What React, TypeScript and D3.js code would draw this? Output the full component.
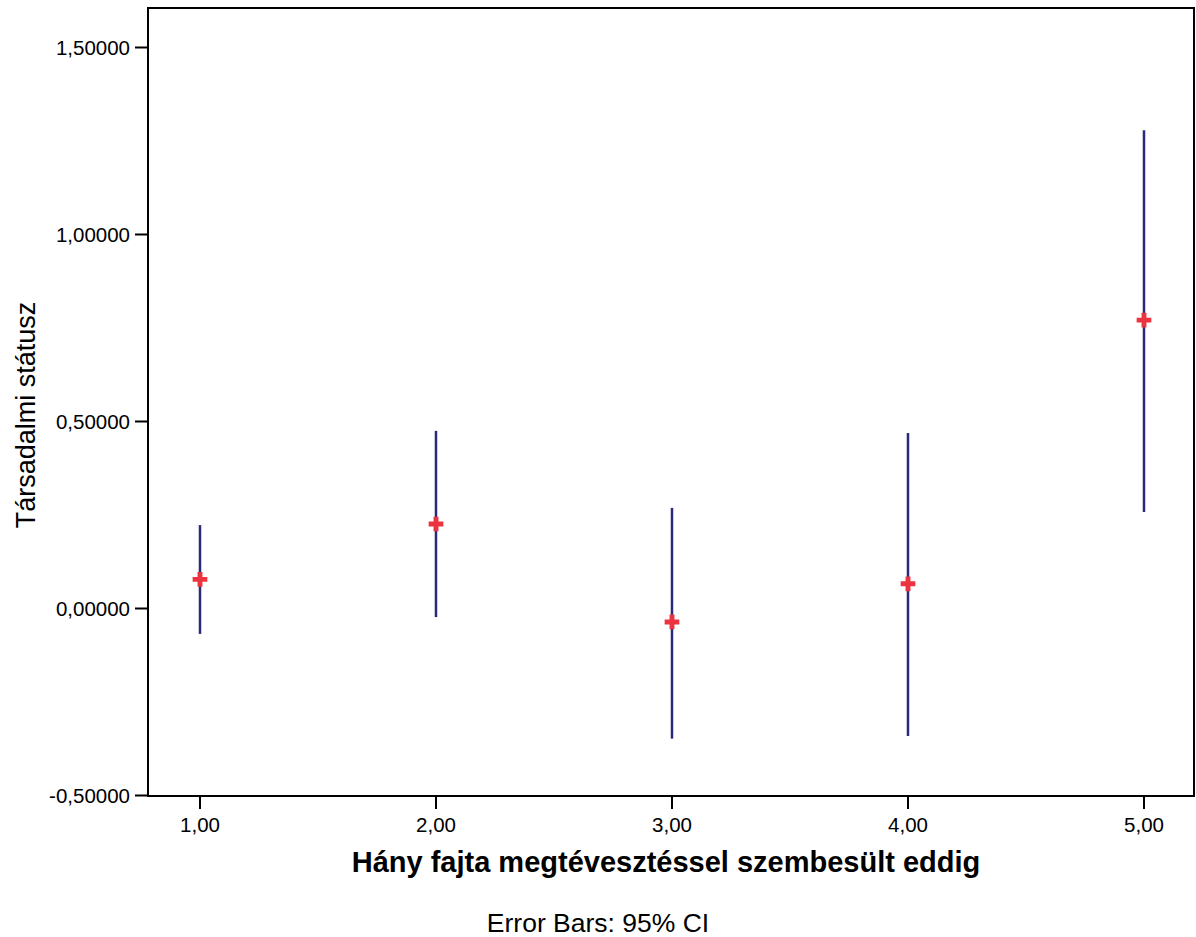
import React from "react";
import * as d3 from "d3";

const categories = [1, 2, 3, 4, 5];
const means = [0.078, 0.226, -0.036, 0.066, 0.771];
const lowers = [-0.068, -0.023, -0.348, -0.341, 0.258];
const uppers = [0.223, 0.475, 0.269, 0.469, 1.279];
const yTicks = [-0.5, 0, 0.5, 1.0, 1.5];
const xTicks = [1, 2, 3, 4, 5];

const W = 1196;
const H = 937;
const left = 148, right = 1194, top = 8, bottom = 796;
const FONT = "Liberation Sans, Arial, Helvetica, sans-serif";

const fmt = (v: number, d: number) => v.toFixed(d).replace(".", ",");

export default function App() {
  const x = d3.scaleLinear().domain([0.7797, 5.2119]).range([left, right]);
  const y = d3.scaleLinear().domain([-0.5, 1.6056]).range([795.5, top]);
  const cross = d3.symbol().type(d3.symbolCross).size(120)() as string;

  return (
    <svg width={W} height={H} style={{ position: "absolute", left: 0, top: 0, background: "#fff" }}
      fontFamily={FONT}>
      <rect x={0} y={0} width={W} height={H} fill="#fff" />
      {categories.map((c, i) => (
        <line key={"e" + i} x1={x(c)} x2={x(c)} y1={y(lowers[i])} y2={y(uppers[i])}
          stroke="#2a2a78" strokeWidth={2.5} />
      ))}
      {categories.map((c, i) => (
        <path key={"m" + i} d={cross} transform={`translate(${x(c)},${y(means[i])})`} fill="#ec3440" />
      ))}
      <rect x={left} y={top} width={right - left} height={bottom - top} fill="none" stroke="#000" strokeWidth={2} />
      {yTicks.map((t) => (
        <g key={"y" + t}>
          <line x1={135} x2={left} y1={y(t)} y2={y(t)} stroke="#000" strokeWidth={2} />
          <text x={130} y={y(t)} dy="0.36em" textAnchor="end" fontSize={20.5} fill="#000">{fmt(t, 5)}</text>
        </g>
      ))}
      {xTicks.map((t) => (
        <g key={"x" + t}>
          <line x1={x(t)} x2={x(t)} y1={bottom} y2={809} stroke="#000" strokeWidth={2} />
          <text x={x(t)} y={832} textAnchor="middle" fontSize={20.5} fill="#000">{fmt(t, 2)}</text>
        </g>
      ))}
      <text x={666} y={872} textAnchor="middle" fontSize={29} fontWeight="bold" fill="#000">
        Hány fajta megtévesztéssel szembesült eddig
      </text>
      <text transform={`translate(35,415) rotate(-90)`} textAnchor="middle" fontSize={27} fill="#000">
        Társadalmi státusz
      </text>
      <text x={598} y={932} textAnchor="middle" fontSize={26.5} fill="#000">Error Bars: 95% CI</text>
    </svg>
  );
}
